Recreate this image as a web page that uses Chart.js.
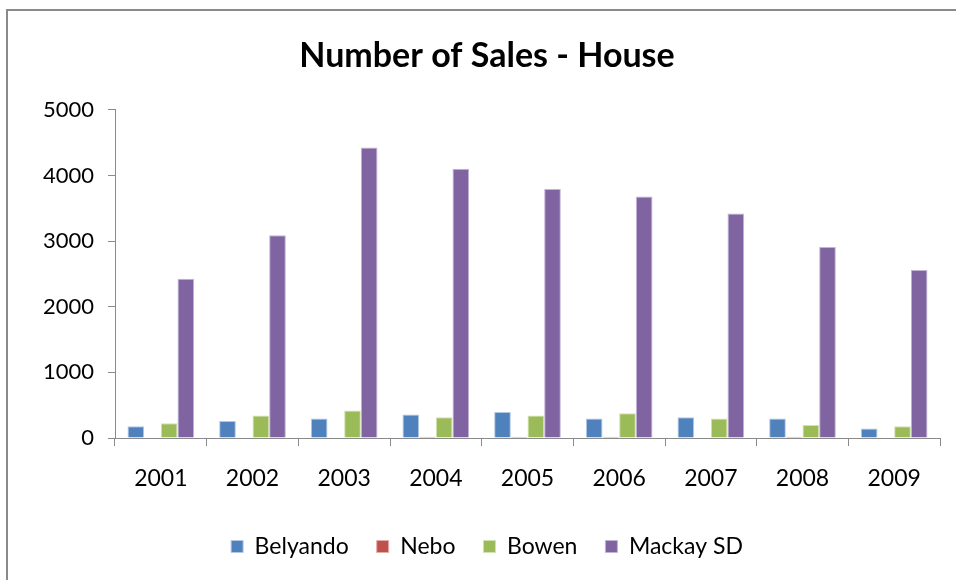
<!DOCTYPE html>
<html>
<head>
<meta charset="utf-8">
<script src="https://cdn.jsdelivr.net/npm/chart.js@4.4.0/dist/chart.umd.min.js"></script>
<style>
  html, body { margin: 0; padding: 0; background: #ffffff; overflow: hidden; }
  #frame { position: absolute; left: 6px; top: 9px; width: 1000px; height: 1000px; border: 2px solid #8a8a8a; box-sizing: border-box; }
  #wrap { position: absolute; left: 0; top: 0; width: 956px; height: 580px; }
</style>
</head>
<body>
<div id="frame"></div>
<div id="wrap"><canvas id="c" width="956" height="580"></canvas></div>
<script>
const years = ['2001','2002','2003','2004','2005','2006','2007','2008','2009'];
const belyando = [180, 260, 297, 358, 398, 297, 317, 297, 144];
const nebo     = [0, 0, 0, 20, 20, 20, 0, 20, 0];
const bowen    = [225, 343, 419, 317, 343, 378, 297, 199, 179];
const mackay   = [2425, 3090, 4425, 4102, 3795, 3680, 3420, 2910, 2560];
const yTicks   = [0, 1000, 2000, 3000, 4000, 5000];

const FONT = 'Lato, "Open Sans", sans-serif';

new Chart(document.getElementById('c'), {
  type: 'bar',
  data: {
    labels: years,
    datasets: [
      { label: 'Belyando', data: belyando, backgroundColor: '#4F81BD', borderColor: '#b4c8e4', borderWidth: 1 },
      { label: 'Nebo',     data: nebo,     backgroundColor: '#C0504D', borderColor: '#e2aeac', borderWidth: 1 },
      { label: 'Bowen',    data: bowen,    backgroundColor: '#9BBB59', borderColor: '#d1e1b0', borderWidth: 1 },
      { label: 'Mackay SD',data: mackay,   backgroundColor: '#8064A2', borderColor: '#c3b4d6', borderWidth: 1 }
    ]
  },
  options: {
    responsive: false,
    animation: false,
    devicePixelRatio: 1,
    layout: { padding: { left: 34, right: 16, top: 36, bottom: 12 } },
    datasets: { bar: { categoryPercentage: 4/5.5, barPercentage: 1.0 } },
    plugins: {
      title: {
        display: true,
        text: 'Number of Sales - House',
        color: '#000000',
        font: { family: FONT, size: 34, weight: 'bold' },
        padding: { top: 0, bottom: 33 }
      },
      legend: {
        position: 'bottom',
        labels: {
          color: '#000000',
          font: { family: FONT, size: 23 },
          boxWidth: 12, boxHeight: 12,
          padding: 28,
          useBorderRadius: false
        }
      },
      tooltip: { enabled: false }
    },
    scales: {
      x: {
        grid: { display: true, drawOnChartArea: false, drawTicks: true, tickLength: 8, color: '#8a8a8a', offset: true },
        border: { display: true, color: '#8a8a8a', width: 1 },
        ticks: { color: '#000000', font: { family: FONT, size: 23 }, padding: 19, maxRotation: 0 },
        afterFit(scale) { scale.height = 69; }
      },
      y: {
        min: 0, max: 5000,
        afterBuildTicks(scale) { scale.ticks = yTicks.map(v => ({ value: v })); },
        grid: { display: true, drawOnChartArea: false, drawTicks: true, tickLength: 7, color: '#8a8a8a' },
        border: { display: true, color: '#8a8a8a', width: 1 },
        ticks: { color: '#000000', font: { family: FONT, size: 22 }, padding: 14, callback: v => String(v) },
        afterFit(scale) { scale.width = 81; }
      }
    }
  }
});
</script>
</body>
</html>
